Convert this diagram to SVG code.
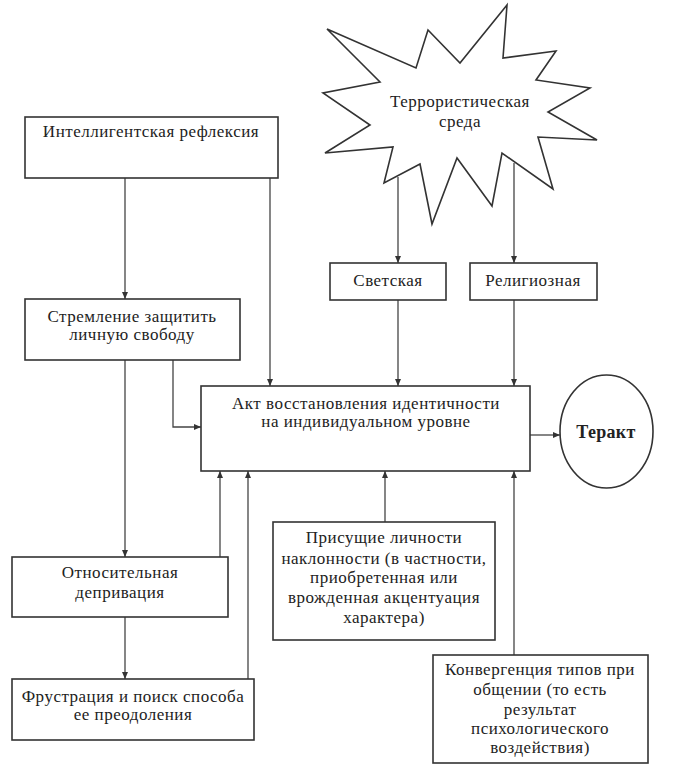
<svg xmlns="http://www.w3.org/2000/svg" width="673" height="776" viewBox="0 0 673 776">
<defs>
<marker id="ah" markerWidth="7" markerHeight="6" refX="7" refY="3" orient="auto" markerUnits="userSpaceOnUse">
<path d="M0,0 L7,3 L0,6 z" fill="#333"/>
</marker>
<style>
.box{fill:#fff;stroke:#333;stroke-width:1.6}
.t{font-family:"Liberation Serif","Times New Roman",serif;font-size:17px;letter-spacing:0.5px;fill:#222;text-anchor:middle}
.b{font-weight:bold;font-size:18px;letter-spacing:0.3px}
.c{fill:none;stroke:#444;stroke-width:1.3;marker-end:url(#ah)}
</style>
</defs>
<rect width="673" height="776" fill="#fff"/>
<g id="star">
<polygon class="box" points="327,29 416,68 428,30 460,63 507,5 503,58 556,51 536,80 590,88 548,112 597,140 538,137 553,189 502,153 492,206 457,158 432,224 420,164 384,183 393,147 325,153 370,125 323,93 380,82"/>
<text class="t" x="460" y="107">Террористическая</text>
<text class="t" x="460" y="127">среда</text>
</g>
<g id="connectors">
<path class="c" d="M125,178 V299"/>
<path class="c" d="M270,178 V386"/>
<path class="c" d="M125,360 V557"/>
<path class="c" d="M173,360 V427 H201"/>
<path class="c" d="M398,177 V263"/>
<path class="c" d="M514,163 V263"/>
<path class="c" d="M398,300 V386"/>
<path class="c" d="M514,300 V386"/>
<path class="c" d="M530,435 H560"/>
<path class="c" d="M125,617 V679"/>
<path class="c" d="M220,557 V471"/>
<path class="c" d="M248,679 V471"/>
<path class="c" d="M385,522 V471"/>
<path class="c" d="M514,655 V471"/>
</g>
<g id="intel">
<rect class="box" x="25" y="117" width="253" height="61"/>
<text class="t" x="151" y="137">Интеллигентская рефлексия</text>
</g>
<g id="strem">
<rect class="box" x="25" y="299" width="215" height="61"/>
<text class="t" x="132" y="322">Стремление защитить</text>
<text class="t" x="132" y="340">личную свободу</text>
</g>
<g id="svetsk">
<rect class="box" x="330" y="263" width="116" height="37"/>
<text class="t" x="388" y="286">Светская</text>
</g>
<g id="relig">
<rect class="box" x="470" y="263" width="127" height="37"/>
<text class="t" x="533" y="286">Религиозная</text>
</g>
<g id="akt">
<rect class="box" x="201" y="386" width="329" height="85"/>
<text class="t" x="366" y="409">Акт восстановления идентичности</text>
<text class="t" x="366" y="427">на индивидуальном уровне</text>
</g>
<g id="terakt">
<ellipse class="box" cx="606.5" cy="431.5" rx="46.5" ry="56.5"/>
<text class="t b" x="606" y="438">Теракт</text>
</g>
<g id="otnos">
<rect class="box" x="12" y="557" width="216" height="60"/>
<text class="t" x="120" y="578">Относительная</text>
<text class="t" x="120" y="598">депривация</text>
</g>
<g id="frust">
<rect class="box" x="12" y="679" width="242" height="61"/>
<text class="t" x="133" y="702">Фрустрация и поиск способа</text>
<text class="t" x="133" y="720">ее преодоления</text>
</g>
<g id="prisush">
<rect class="box" x="273" y="522" width="222" height="118"/>
<text class="t" x="384" y="543">Присущие личности</text>
<text class="t" x="384" y="564">наклонности (в частности,</text>
<text class="t" x="384" y="583">приобретенная или</text>
<text class="t" x="384" y="603">врожденная акцентуация</text>
<text class="t" x="384" y="623">характера)</text>
</g>
<g id="konv">
<rect class="box" x="433" y="655" width="215" height="108"/>
<text class="t" x="540" y="675">Конвергенция типов при</text>
<text class="t" x="540" y="695">общении (то есть</text>
<text class="t" x="540" y="715">результат</text>
<text class="t" x="540" y="734">психологического</text>
<text class="t" x="540" y="753">воздействия)</text>
</g>
</svg>
